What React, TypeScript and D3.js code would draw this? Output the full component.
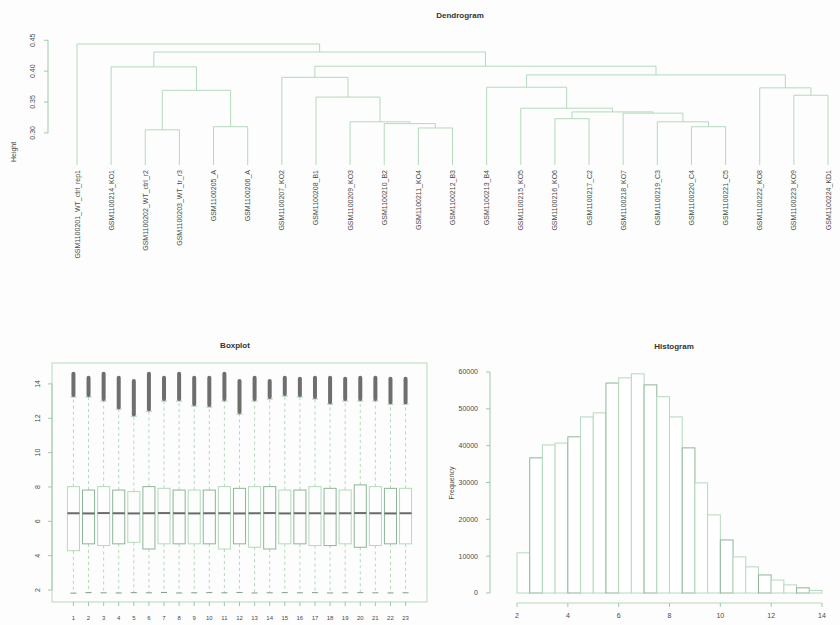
import React from "react";
import * as d3 from "d3";

const W = 840;
const H = 625;

// ---------------- Dendrogram data ----------------
const leafLabels = [
  "GSM1100201_WT_ctrl_rep1", "GSM1100214_KO1", "GSM1100202_WT_ctrl_r2", "GSM1100203_WT_tr_r3",
  "GSM1100205_A", "GSM1100206_A", "GSM1100207_KO2", "GSM1100208_B1", "GSM1100209_KO3",
  "GSM1100210_B2", "GSM1100211_KO4", "GSM1100212_B3", "GSM1100213_B4", "GSM1100215_KO5",
  "GSM1100216_KO6", "GSM1100217_C2", "GSM1100218_KO7", "GSM1100219_C3", "GSM1100220_C4",
  "GSM1100221_C5", "GSM1100222_KO8", "GSM1100223_KO9", "GSM1100224_KD1",
];
// R-style merge matrix: negative = leaf, positive = earlier merge (1-based)
const mergeLeft = [-3, -11, -5, -19, -10, -9, -18, -15, -17, 8, -14, -8, -22, 1, -21, -13, -7, 16, -2, 17, 19, -1];
const mergeRight = [-4, -12, -6, -20, 2, 5, 4, -16, 7, 9, 10, 6, -23, 3, 13, 11, 12, 15, 14, 18, 20, 21];
const mergeHeights = [0.305, 0.308, 0.310, 0.310, 0.315, 0.318, 0.318, 0.323, 0.332, 0.334, 0.340, 0.358, 0.361, 0.369, 0.373, 0.374, 0.390, 0.394, 0.407, 0.408, 0.431, 0.444];
const dendroTicks = [0.3, 0.35, 0.4, 0.45];
const LEAF_BASE = 0.248;

// ---------------- Boxplot data ----------------
const sampleIds = d3.range(1, 24).map(String);
const boxQ1 = [4.29, 4.69, 4.59, 4.69, 4.78, 4.39, 4.69, 4.69, 4.69, 4.69, 4.39, 4.69, 4.49, 4.39, 4.69, 4.69, 4.59, 4.59, 4.69, 4.49, 4.59, 4.69, 4.69];
const boxMed = [6.47, 6.46, 6.48, 6.47, 6.46, 6.47, 6.48, 6.47, 6.46, 6.47, 6.47, 6.46, 6.47, 6.48, 6.46, 6.47, 6.47, 6.46, 6.47, 6.48, 6.47, 6.46, 6.47];
const boxQ3 = [8.02, 7.82, 8.02, 7.82, 7.73, 8.02, 7.92, 7.82, 7.82, 7.82, 8.02, 7.92, 8.02, 8.02, 7.82, 7.82, 8.02, 7.92, 7.82, 8.12, 8.02, 7.92, 7.92];
const whiskLo = [1.82, 1.85, 1.84, 1.83, 1.85, 1.84, 1.86, 1.83, 1.84, 1.85, 1.84, 1.86, 1.83, 1.84, 1.85, 1.84, 1.85, 1.83, 1.84, 1.85, 1.84, 1.83, 1.84];
const whiskHi = [13.24, 13.24, 13.0, 12.53, 12.12, 12.41, 13.0, 13.0, 12.71, 12.65, 13.0, 12.24, 13.0, 13.12, 13.29, 13.24, 13.12, 12.82, 13.0, 13.0, 13.0, 12.82, 12.82];
const outMax = [14.7, 14.47, 14.7, 14.47, 14.29, 14.7, 14.47, 14.7, 14.47, 14.47, 14.7, 14.29, 14.47, 14.29, 14.47, 14.41, 14.47, 14.47, 14.41, 14.47, 14.47, 14.41, 14.41];
const boxTicks = [2, 4, 6, 8, 10, 12, 14];

// ---------------- Histogram data ----------------
const histBreaks = [2, 2.5, 3, 3.5, 4, 4.5, 5, 5.5, 6, 6.5, 7, 7.5, 8, 8.5, 9, 9.5, 10, 10.5, 11, 11.5, 12, 12.5, 13, 13.5, 14];
const histCounts = [10900, 36700, 40200, 40700, 42400, 47800, 48900, 57000, 58400, 59500, 56500, 53300, 47800, 39400, 29900, 21200, 14400, 9800, 7100, 4900, 3500, 2200, 1400, 700];
const histXTicks = [2, 4, 6, 8, 10, 12, 14];
const histYTicks = [0, 10000, 20000, 30000, 40000, 50000, 60000];

// ---------------- Styles ----------------
const LINE = "#b4dabd";
const LINE2 = "#9fcaa9";
const TEXT = "#4a4a4a";
const FONT = "Liberation Sans, Arial, sans-serif";

type DNode = { ref: number; h: number; label?: string; children?: DNode[] };

function build(ref: number): DNode {
  if (ref < 0) return { ref, h: LEAF_BASE, label: leafLabels[-ref - 1] };
  const i = ref - 1;
  return { ref, h: mergeHeights[i], children: [build(mergeLeft[i]), build(mergeRight[i])] };
}

function Dendrogram() {
  const root: any = d3.hierarchy(build(mergeLeft.length));
  const leaves = root.leaves();
  const xLeaf = d3.scalePoint<string>().domain(leaves.map((d: any) => d.data.label)).range([77, 828]);
  root.eachAfter((n: any) => {
    n.x = n.children ? d3.mean(n.children, (c: any) => c.x) : xLeaf(n.data.label);
  });
  const y = d3.scaleLinear().domain([LEAF_BASE, d3.max(mergeHeights) as number]).range([165, 44]);
  const links: any[] = [];
  root.each((n: any) => {
    if (!n.children) return;
    const [a, b] = n.children;
    links.push(
      <path key={"l" + n.data.ref}
        d={`M${a.x},${y(a.data.h)}V${y(n.data.h)}H${b.x}V${y(b.data.h)}`}
        fill="none" stroke={LINE} strokeWidth={1} />
    );
  });
  return (
    <g>
      <text x={460} y={18} textAnchor="middle" fontSize={8} fontWeight="bold" fill="#333">Dendrogram</text>
      {links}
      {leaves.map((l: any) => (
        <text key={l.data.label} transform={`translate(${l.x + 2.5},170) rotate(-90)`} textAnchor="end"
          fontSize={7} fill={TEXT}>{l.data.label}</text>
      ))}
      <line x1={48} x2={48} y1={y(dendroTicks[0])} y2={y(dendroTicks[dendroTicks.length - 1])} stroke={LINE2} />
      {dendroTicks.map((t) => (
        <g key={t}>
          <line x1={44} x2={48} y1={y(t)} y2={y(t)} stroke={LINE2} />
          <text transform={`translate(35,${y(t)}) rotate(-90)`} textAnchor="middle" fontSize={7} fill={TEXT}>
            {d3.format(".2f")(t)}
          </text>
        </g>
      ))}
      <text transform="translate(16,152) rotate(-90)" textAnchor="middle" fontSize={7} fill={TEXT}>Height</text>
    </g>
  );
}

function Boxplot() {
  const n = sampleIds.length;
  const x = d3.scaleLinear().domain([0.5 - 0.04 * n, n + 0.5 + 0.04 * n]).range([52, 427]);
  const lo = d3.min(whiskLo) as number;
  const hi = d3.max(outMax) as number;
  const pad = (hi - lo) * 0.04;
  const y = d3.scaleLinear().domain([lo - pad, hi + pad]).range([602, 363]);
  const half = x(1.4) - x(1);
  const staple = half / 2;
  return (
    <g>
      <text x={235} y={348} textAnchor="middle" fontSize={8} fontWeight="bold" fill="#333">Boxplot</text>
      <rect x={52} y={363} width={375} height={239} fill="none" stroke={LINE} />
      {sampleIds.map((s, i) => {
        const cx = x(i + 1);
        return (
          <g key={s}>
            <line x1={cx} x2={cx} y1={y(boxQ3[i])} y2={y(whiskHi[i])} stroke={LINE} strokeDasharray="3,3" />
            <line x1={cx} x2={cx} y1={y(boxQ1[i])} y2={y(whiskLo[i])} stroke={LINE} strokeDasharray="3,3" />
            <line x1={cx - staple} x2={cx + staple} y1={y(whiskHi[i])} y2={y(whiskHi[i])} stroke={LINE2} />
            <line x1={cx - staple} x2={cx + staple} y1={y(whiskLo[i])} y2={y(whiskLo[i])} stroke="#7f9f86" />
            <rect x={cx - 2} y={y(outMax[i])} width={4} height={y(whiskHi[i]) - y(outMax[i])} rx={2}
              fill="#555555" opacity={0.85} />
            <rect x={cx - half} y={y(boxQ3[i])} width={half * 2} height={y(boxQ1[i]) - y(boxQ3[i])}
              fill="none" stroke={i % 2 ? "#8fb598" : LINE} />
            <line x1={cx - half} x2={cx + half} y1={y(boxMed[i])} y2={y(boxMed[i])} stroke="#6a6a6a" strokeWidth={2} />
            <line x1={cx} x2={cx} y1={602} y2={606} stroke={LINE2} />
            <text x={cx} y={620} textAnchor="middle" fontSize={6} fill={TEXT}>{s}</text>
          </g>
        );
      })}
      <line x1={52} x2={52} y1={y(boxTicks[0])} y2={y(boxTicks[boxTicks.length - 1])} stroke={LINE2} />
      {boxTicks.map((t) => (
        <g key={t}>
          <line x1={48} x2={52} y1={y(t)} y2={y(t)} stroke={LINE2} />
          <text transform={`translate(40,${y(t)}) rotate(-90)`} textAnchor="middle" fontSize={7} fill={TEXT}>{t}</text>
        </g>
      ))}
    </g>
  );
}

function Histogram() {
  const x = d3.scaleLinear().domain([2, 14]).range([517, 822]);
  const y = d3.scaleLinear().domain([0, 60000]).range([593, 372]);
  return (
    <g>
      <text x={674} y={349} textAnchor="middle" fontSize={8} fontWeight="bold" fill="#333">Histogram</text>
      {histCounts.map((c, i) => (
        <rect key={i} x={x(histBreaks[i])} y={y(c)} width={x(histBreaks[i + 1]) - x(histBreaks[i])}
          height={y(0) - y(c)} fill="#ffffff" stroke={i % 3 === 1 ? "#8fb598" : LINE} />
      ))}
      <line x1={490} x2={490} y1={y(0)} y2={y(60000)} stroke={LINE2} />
      {histYTicks.map((t) => (
        <g key={t}>
          <line x1={486} x2={490} y1={y(t)} y2={y(t)} stroke={LINE2} />
          <text x={478} y={y(t)} dy="0.35em" textAnchor="end" fontSize={7} fill={TEXT}>{t}</text>
        </g>
      ))}
      <text transform="translate(454,483) rotate(-90)" textAnchor="middle" fontSize={7} fill={TEXT}>Frequency</text>
      <line x1={x(histXTicks[0])} x2={x(histXTicks[histXTicks.length - 1])} y1={603} y2={603} stroke={LINE} />
      {histXTicks.map((t) => (
        <g key={t}>
          <line x1={x(t)} x2={x(t)} y1={603} y2={607} stroke={LINE2} />
          <text x={x(t)} y={618} textAnchor="middle" fontSize={7} fill={TEXT}>{t}</text>
        </g>
      ))}
    </g>
  );
}

export default function App() {
  return (
    <svg width={W} height={H} style={{ position: "fixed", left: 0, top: 0 }} fontFamily={FONT}>
      <rect width={W} height={H} fill="#fcfdfc" />
      <Dendrogram />
      <Boxplot />
      <Histogram />
    </svg>
  );
}
